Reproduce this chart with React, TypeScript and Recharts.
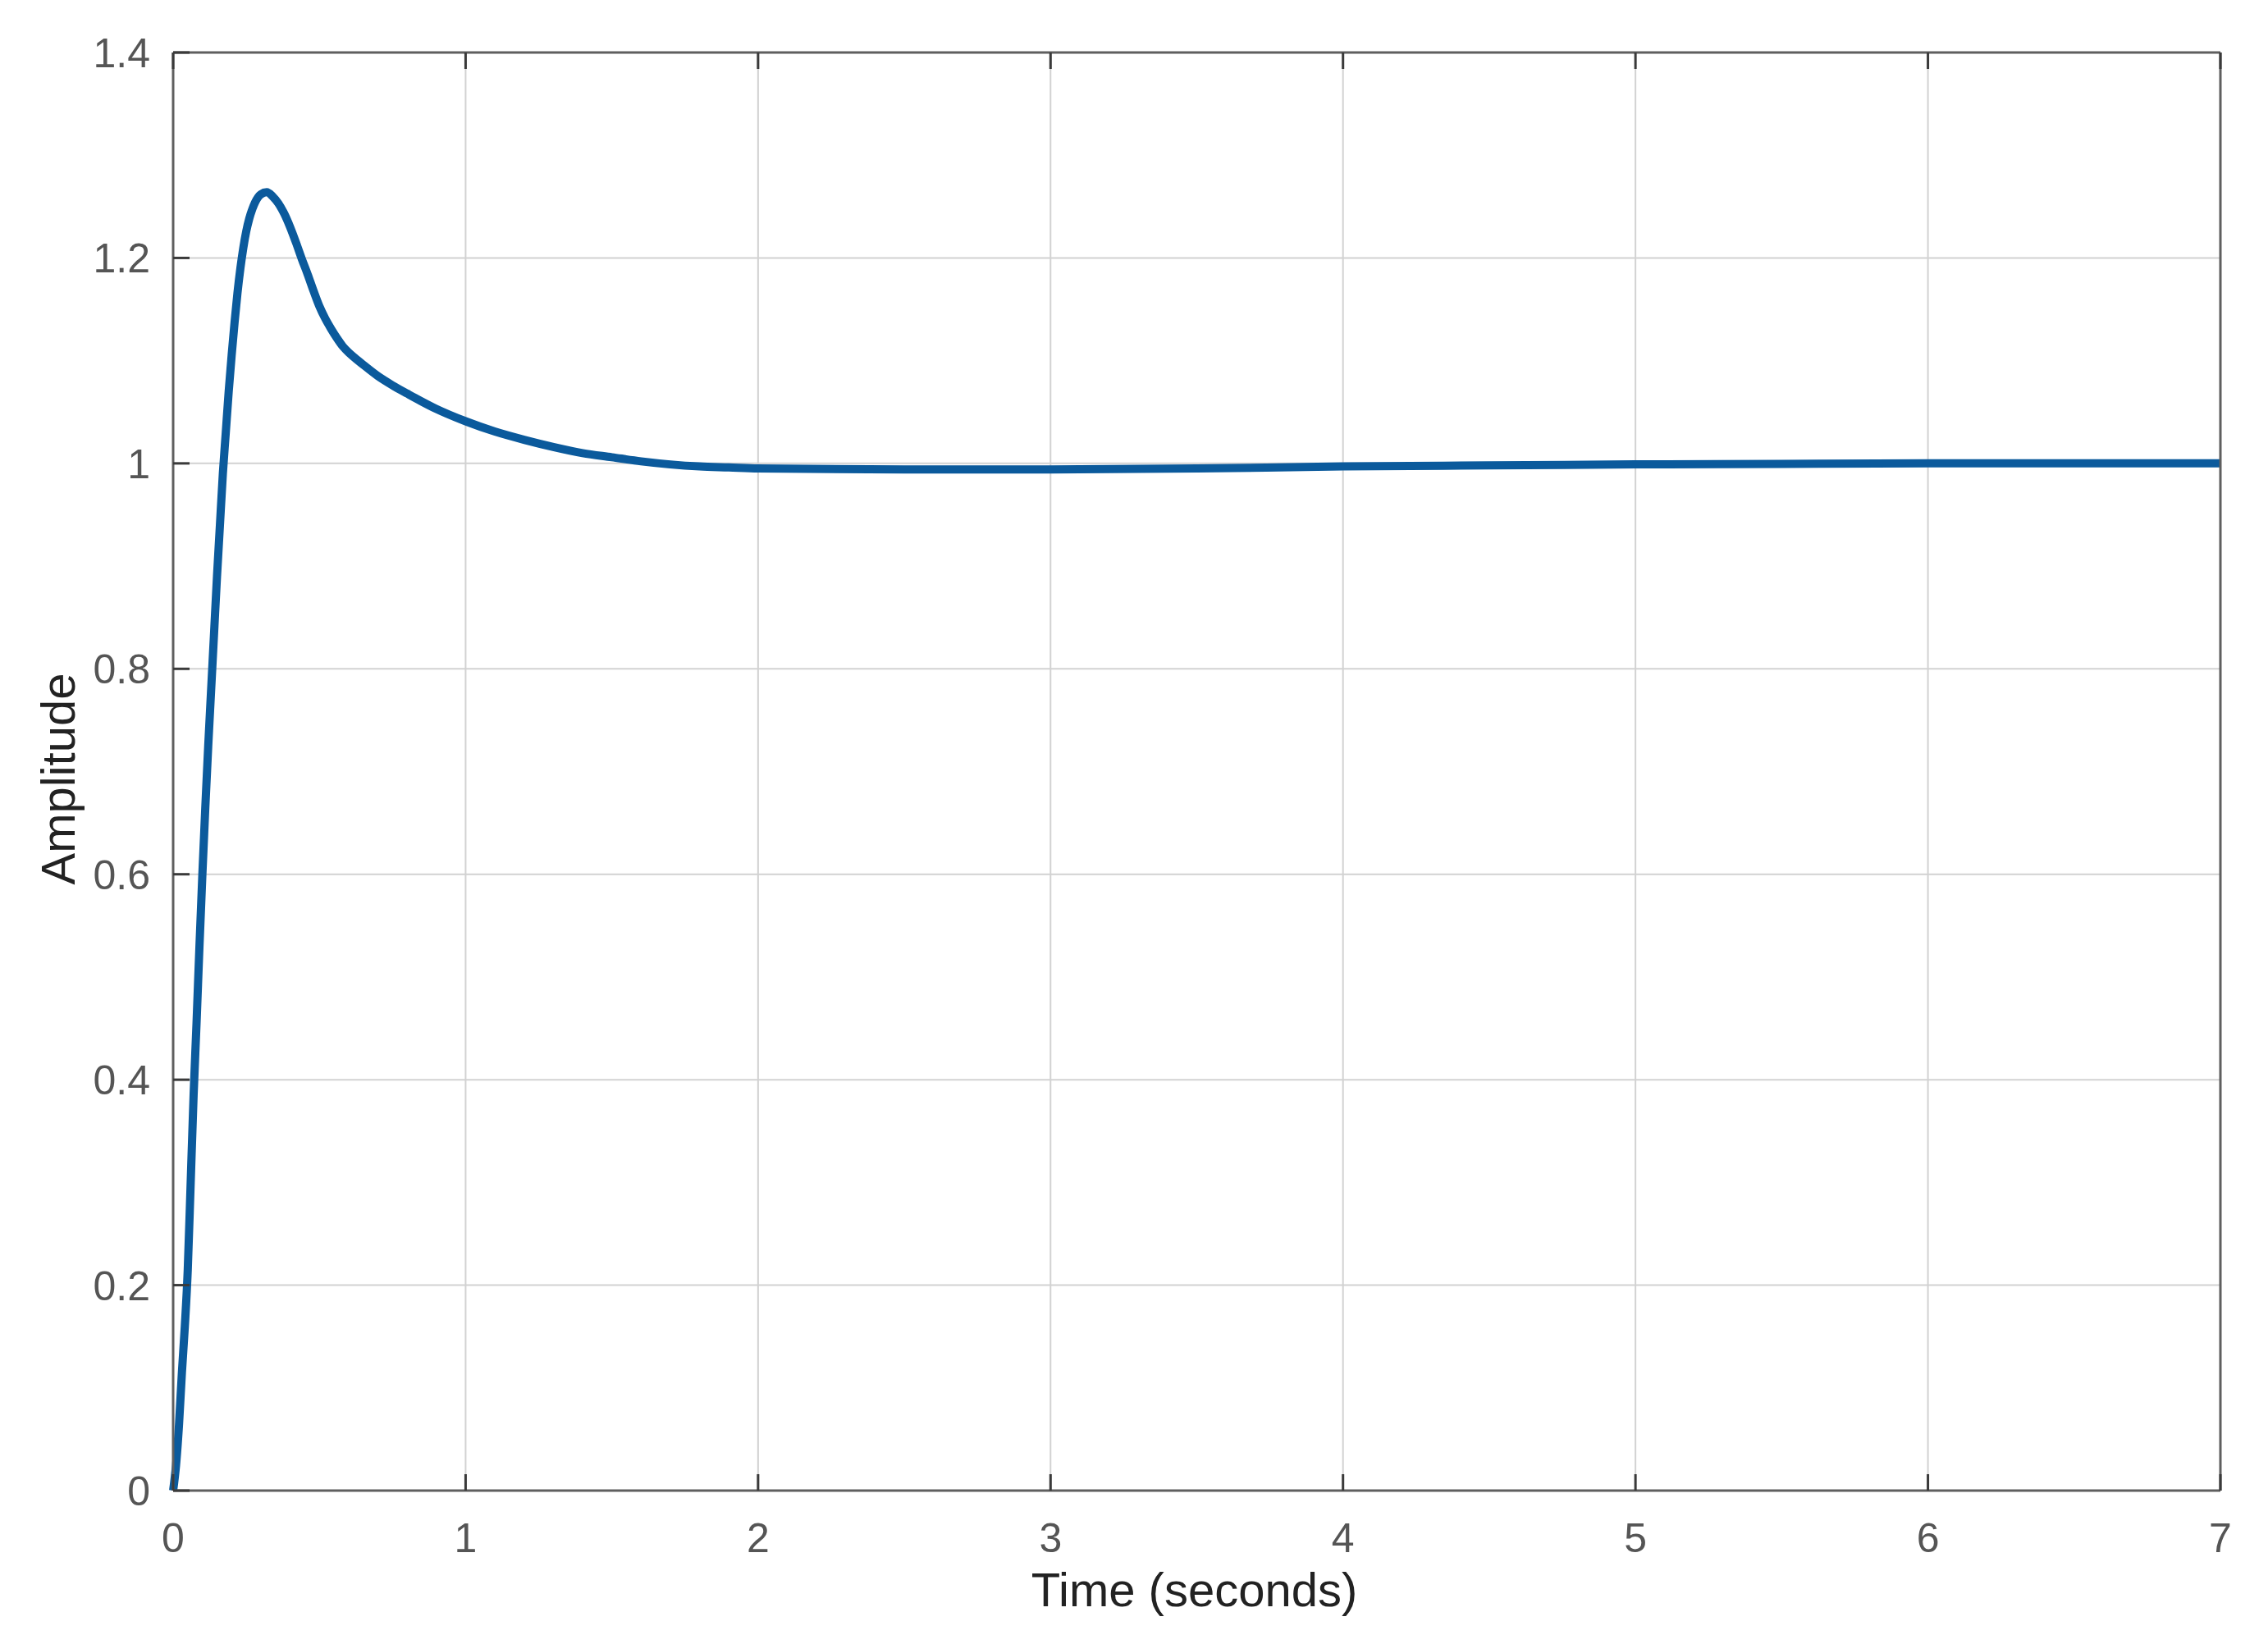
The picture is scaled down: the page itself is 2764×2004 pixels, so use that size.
import React from 'react';
import { LineChart, Line, XAxis, YAxis, CartesianGrid } from 'recharts';

// step response
const times = [
  0, 0.01, 0.02, 0.03, 0.04, 0.05, 0.06, 0.07, 0.08, 0.09, 0.1, 0.11, 0.12, 0.13, 0.14, 0.15, 0.16, 0.17,
  0.18, 0.19, 0.2, 0.21, 0.22, 0.23, 0.24, 0.25, 0.26, 0.27, 0.28, 0.29, 0.3, 0.32, 0.34, 0.36, 0.38, 0.4,
  0.42, 0.44, 0.46, 0.48, 0.5, 0.52, 0.54, 0.56, 0.58, 0.6, 0.62, 0.65, 0.7, 0.75, 0.8, 0.9, 1.0, 1.1, 1.2,
  1.3, 1.4, 1.5, 1.6, 1.7, 1.8, 1.9, 2.0, 2.5, 3.0, 3.5, 4.0, 4.5, 5.0, 5.5, 6.0, 6.5, 7.0,
];
const amplitude = [
  0, 0.025, 0.064, 0.115, 0.16, 0.215, 0.3, 0.385, 0.455, 0.53, 0.6, 0.665, 0.725, 0.78, 0.835, 0.89, 0.94, 0.99,
  1.03, 1.07, 1.105, 1.137, 1.166, 1.19, 1.21, 1.226, 1.238, 1.247, 1.254, 1.259, 1.262, 1.264, 1.26, 1.253, 1.243, 1.23,
  1.215, 1.199, 1.184, 1.168, 1.153, 1.141, 1.131, 1.122, 1.114, 1.108, 1.103, 1.096, 1.085, 1.076, 1.068, 1.053, 1.041, 1.031, 1.023,
  1.016, 1.01, 1.006, 1.002, 0.999, 0.997, 0.996, 0.995, 0.994, 0.994, 0.995, 0.997, 0.998, 0.999, 0.9995, 1.0, 1.0, 1.0,
];
const xTicks = [0, 1, 2, 3, 4, 5, 6, 7];
const yTicks = [0, 0.2, 0.4, 0.6, 0.8, 1, 1.2, 1.4];

const data = times.map((t, i) => ({ t, a: amplitude[i] }));

const FONT = '"Liberation Sans", Arial, Helvetica, sans-serif';
const BOX = '#5f5f5f';
const TICK = '#3a3a3a';
const TICK_LEN = 20;
const TICK_TEXT = '#555555';

const BottomTick = ({ x, y, payload }: any) => (
  <g>
    <line x1={x} y1={y} x2={x} y2={y - TICK_LEN} stroke={TICK} strokeWidth={3} />
    <text x={x} y={y + 75} textAnchor="middle" fontSize={50} fontFamily={FONT} fill={TICK_TEXT}>
      {payload.value}
    </text>
  </g>
);

const LeftTick = ({ x, y, payload }: any) => (
  <g>
    <line x1={x} y1={y} x2={x + TICK_LEN} y2={y} stroke={TICK} strokeWidth={3} />
    <text x={x - 28} y={y + 18} textAnchor="end" fontSize={50} fontFamily={FONT} fill={TICK_TEXT}>
      {payload.value}
    </text>
  </g>
);

const TopTick = ({ x, y }: any) => (
  <line x1={x} y1={y} x2={x} y2={y + TICK_LEN} stroke={TICK} strokeWidth={3} />
);

const RightTick = ({ x, y }: any) => (
  <line x1={x} y1={y} x2={x - TICK_LEN} y2={y} stroke={TICK} strokeWidth={3} />
);

const XLabel = ({ viewBox }: any) => (
  <text
    x={viewBox.x + viewBox.width / 2 - 3}
    y={viewBox.y + viewBox.height - 46}
    textAnchor="middle"
    fontSize={58}
    fontFamily={FONT}
    fill="#222"
  >
    Time (seconds)
  </text>
);

const YLabel = ({ viewBox }: any) => {
  const cx = viewBox.x + 91;
  const cy = viewBox.y + viewBox.height / 2 + 9;
  return (
    <text
      x={cx}
      y={cy}
      transform={`rotate(-90 ${cx} ${cy})`}
      textAnchor="middle"
      fontSize={58}
      fontFamily={FONT}
      fill="#222"
    >
      Amplitude
    </text>
  );
};

export default function App() {
  return (
    <div style={{ position: 'absolute', left: 0, top: 0, width: 2764, height: 2004, background: '#fff' }}>
      <LineChart width={2764} height={2004} data={data} margin={{ top: 63, right: 57, left: 0, bottom: 0 }}>
        <CartesianGrid stroke="#d2d2d2" strokeWidth={2} />
        <XAxis
          dataKey="t"
          type="number"
          domain={[0, 7]}
          ticks={xTicks}
          interval={0}
          height={187}
          tickSize={0}
          tickMargin={0}
          tickLine={false}
          axisLine={{ stroke: BOX, strokeWidth: 3 }}
          tick={BottomTick}
          label={XLabel}
        />
        <XAxis
          xAxisId="top"
          orientation="top"
          dataKey="t"
          type="number"
          domain={[0, 7]}
          ticks={xTicks}
          interval={0}
          height={1}
          tickSize={0}
          tickMargin={0}
          tickLine={false}
          axisLine={{ stroke: BOX, strokeWidth: 3 }}
          tick={TopTick}
        />
        <YAxis
          type="number"
          domain={[0, 1.4]}
          ticks={yTicks}
          interval={0}
          width={211}
          tickSize={0}
          tickMargin={0}
          tickLine={false}
          axisLine={{ stroke: BOX, strokeWidth: 3 }}
          tick={LeftTick}
          label={YLabel}
        />
        <YAxis
          yAxisId="right"
          orientation="right"
          type="number"
          domain={[0, 1.4]}
          ticks={yTicks}
          interval={0}
          width={1}
          tickSize={0}
          tickMargin={0}
          tickLine={false}
          axisLine={{ stroke: BOX, strokeWidth: 3 }}
          tick={RightTick}
        />
        <Line
          type="monotone"
          dataKey="a"
          stroke="#0b5a9c"
          strokeWidth={10}
          dot={false}
          isAnimationActive={false}
        />
      </LineChart>
    </div>
  );
}
